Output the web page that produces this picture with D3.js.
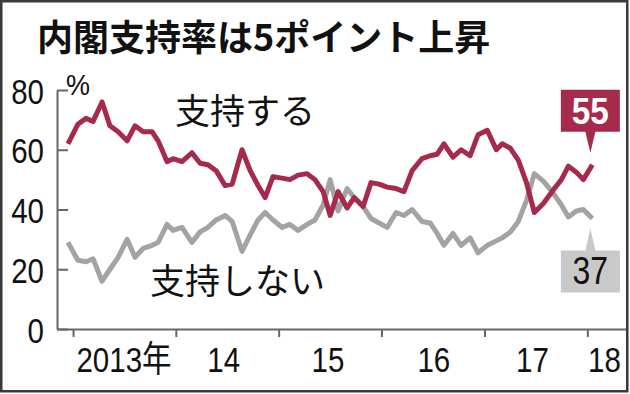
<!DOCTYPE html>
<html lang="ja">
<head>
<meta charset="utf-8">
<script src="https://cdn.jsdelivr.net/npm/d3@7"></script>
<style>
  body { margin: 0; background: #fff; }
  svg { display: block; }
</style>
</head>
<body>
<main></main>
<script>
// poll dates (monthly polls, a few months have two)
const pollDates = ["2012-12-14","2013-01-18","2013-02-16","2013-03-13","2013-04-14","2013-05-12","2013-06-10","2013-07-12","2013-08-09","2013-09-07","2013-10-09","2013-10-30","2013-12-01","2013-12-22","2014-01-23","2014-02-27","2014-03-28","2014-04-25","2014-05-24","2014-06-25","2014-07-20","2014-08-24","2014-09-22","2014-10-20","2014-11-14","2014-12-12","2015-01-13","2015-02-10","2015-03-11","2015-04-12","2015-05-10","2015-06-08","2015-07-03","2015-07-31","2015-09-01","2015-09-26","2015-10-28","2015-11-25","2015-12-24","2016-01-21","2016-02-22","2016-03-21","2016-04-19","2016-05-24","2016-06-22","2016-07-17","2016-08-10","2016-09-11","2016-10-10","2016-11-11","2016-12-09","2017-01-11","2017-02-12","2017-03-05","2017-04-03","2017-05-01","2017-05-30","2017-06-27","2017-07-29","2017-09-02","2017-10-01","2017-10-26","2017-11-23","2017-12-18","2018-01-19"];

// 支持する
const support = [62, 68.5, 70.5, 69.5, 76, 68, 66, 63, 68, 66, 66, 63, 56, 57, 56, 59, 55.5,
  55, 53, 48, 48.5, 60, 53, 48, 44, 51, 50.5,
  50, 51.5, 52, 50, 46, 38, 46, 40.5, 44, 41,
  49, 48.5, 47.5, 47, 46, 53, 57, 58, 58.5, 62,
  57.5, 60, 58, 65, 66.5, 60, 62, 60.5, 56.5, 49,
  39, 42, 46.5, 50, 54.5, 52.5, 50, 55];

// 支持しない
const notSupport = [29, 23, 22.5, 23.5, 16, 20, 24, 30, 24, 27, 28, 29, 35, 33, 34, 29, 32.5,
  34, 36.5, 38, 36, 26, 31.5, 36.5, 39, 36.5, 34,
  35, 33, 35, 36.5, 41.5, 50, 39.5, 47, 44, 41,
  37, 35.5, 34, 39, 38, 40, 36, 35.5, 32, 28,
  32, 28, 30.5, 25.5, 28, 29.5, 30.5, 32.5, 36, 43,
  52, 49.5, 45.5, 41.5, 37.5, 39.5, 40, 37];

const yTicks = [0, 20, 40, 60, 80];
const yearTicks = ["2013-01-01","2014-01-01","2015-01-01","2016-01-01","2017-01-01","2018-01-01"];
const yearLabels = ["2013年","14","15","16","17","18"];
const yearLabelAt = ["2013-07-01","2014-06-20","2015-06-25","2016-07-05","2017-06-20","2018-03-03"];

const title = "内閣支持率は5ポイント上昇";
const supportLabel = "支持する";
const notSupportLabel = "支持しない";

const w = 630;
const h = 394;
const red = "#a62a4b";
const grayLine = "#a3a3a3";
const grayBox = "#c9c9c9";
const numFont = "'Liberation Sans', Arial, 'Noto Sans CJK JP', sans-serif";
const jpFont = "'Noto Sans CJK JP', sans-serif";
const narrow = 0.82; // digits in the chart are condensed

const parse = d3.timeParse("%Y-%m-%d");

const x = d3.scaleTime()
  .domain([parse("2012-11-05"), parse("2018-05-22")])
  .range([57, 627]);

const y = d3.scaleLinear()
  .domain([0, 80])
  .range([329, 90]);

const svg = d3.select("main")
  .append("svg")
  .attr("width", w)
  .attr("height", h);

svg.append("rect")
  .attr("width", w).attr("height", h).attr("fill", "#fff");

// text squeezed horizontally around its anchor point
function condensed(px, py, k) {
  return `translate(${px},${py}) scale(${k},1)`;
}

// title
svg.append("text")
  .attr("x", 37).attr("y", 51)
  .attr("font-family", jpFont)
  .attr("font-weight", "bold")
  .attr("font-size", 36)
  .attr("fill", "#111")
  .text(title);

// y axis, ticks pointing inward
const axisY = d3.axisLeft(y)
  .tickValues(yTicks)
  .tickSizeInner(-11)
  .tickSizeOuter(0)
  .tickPadding(13);

const gy = svg.append("g")
  .attr("transform", "translate(57,0)")
  .call(axisY);
gy.selectAll("path, line").attr("stroke", "#666").attr("stroke-width", 2);
gy.selectAll("text")
  .attr("x", null)
  .attr("dy", null)
  .attr("transform", condensed(-13, 13, narrow))
  .attr("font-family", numFont)
  .attr("font-size", 36)
  .attr("fill", "#111");

svg.append("text")
  .attr("transform", condensed(66, 95, 0.9))
  .attr("font-family", numFont)
  .attr("font-size", 30)
  .attr("fill", "#111")
  .text("%");

// x axis
const axisX = d3.axisBottom(x)
  .tickValues(yearTicks.map(parse))
  .tickSizeInner(8)
  .tickSizeOuter(0)
  .tickFormat("");

const gx = svg.append("g")
  .attr("transform", "translate(0,329)")
  .call(axisX);
gx.selectAll("path, line").attr("stroke", "#666").attr("stroke-width", 2);

svg.append("g")
  .selectAll("text")
  .data(yearLabels)
  .enter()
  .append("text")
  .attr("transform", (d, i) => condensed(x(parse(yearLabelAt[i])), 372, narrow))
  .attr("text-anchor", "middle")
  .attr("font-family", numFont)
  .attr("font-size", 36)
  .attr("fill", "#111")
  .text(d => d);

// lines
const line = d3.line()
  .x((d, i) => x(parse(pollDates[i])))
  .y(d => y(d));

svg.append("path")
  .attr("d", line(notSupport))
  .attr("fill", "none")
  .attr("stroke", grayLine)
  .attr("stroke-width", 5)
  .attr("stroke-linejoin", "round");

svg.append("path")
  .attr("d", line(support))
  .attr("fill", "none")
  .attr("stroke", red)
  .attr("stroke-width", 5)
  .attr("stroke-linejoin", "round");

// series labels
svg.append("text")
  .attr("x", 175).attr("y", 124)
  .attr("font-family", jpFont)
  .attr("font-size", 35)
  .attr("fill", "#111")
  .text(supportLabel);

svg.append("text")
  .attr("x", 150).attr("y", 294)
  .attr("font-family", jpFont)
  .attr("font-size", 35)
  .attr("fill", "#111")
  .text(notSupportLabel);

// callouts for the latest values
const last = pollDates.length - 1;
const lx = x(parse(pollDates[last])) - 2;
const ry = y(support[last]);
const gyv = y(notSupport[last]);

svg.append("path")
  .attr("d", `M${lx - 29.5},${ry - 75}H${lx + 29.5}V${ry - 33}H${lx + 5}L${lx},${ry - 12}L${lx - 5},${ry - 33}H${lx - 29.5}Z`)
  .attr("fill", red);
svg.append("text")
  .attr("transform", condensed(lx, ry - 41, 0.9))
  .attr("text-anchor", "middle")
  .attr("font-family", numFont)
  .attr("font-weight", "bold")
  .attr("font-size", 37)
  .attr("fill", "#fff")
  .text(support[last]);

svg.append("path")
  .attr("d", `M${lx - 29.5},${gyv + 74}H${lx + 29.5}V${gyv + 32}H${lx + 5}L${lx},${gyv + 10}L${lx - 5},${gyv + 32}H${lx - 29.5}Z`)
  .attr("fill", grayBox);
svg.append("text")
  .attr("transform", condensed(lx, gyv + 66, 0.84))
  .attr("text-anchor", "middle")
  .attr("font-family", numFont)
  .attr("font-size", 38)
  .attr("fill", "#111")
  .text(notSupport[last]);

// frame
svg.append("rect")
  .attr("x", 1.25).attr("y", 1.25)
  .attr("width", 626).attr("height", 390)
  .attr("fill", "none")
  .attr("stroke", "#3a3a3a")
  .attr("stroke-width", 2.5);
</script>
</body>
</html>
